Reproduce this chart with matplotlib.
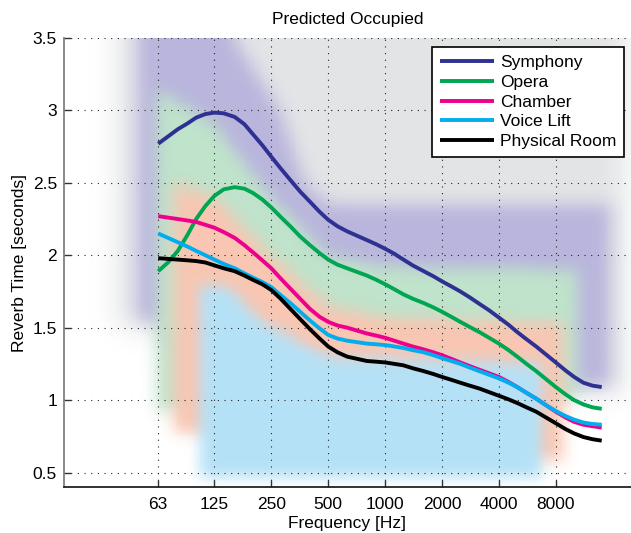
import numpy as np
import matplotlib
matplotlib.use("Agg")
import matplotlib.pyplot as plt

plt.rcParams['font.family'] = ['Liberation Sans', 'DejaVu Sans']

# 1/6-octave frequencies of the predicted curves
freqs = [63, 71, 80, 90, 100, 112, 125, 140, 160, 180,
         200, 224, 250, 280, 315, 355, 400, 450, 500, 560,
         630, 710, 800, 900, 1000, 1120, 1250, 1400, 1600, 1800,
         2000, 2240, 2500, 2800, 3150, 3550, 4000, 4500, 5000, 5600,
         6300, 7100, 8000, 9000, 10000, 11200, 12500, 14000]

symphony = [2.77, 2.82, 2.87, 2.91, 2.95, 2.975, 2.985, 2.98, 2.955, 2.905,
            2.835, 2.76, 2.68, 2.60, 2.52, 2.44, 2.37, 2.30, 2.245, 2.20,
            2.165, 2.135, 2.105, 2.075, 2.045, 2.01, 1.97, 1.93, 1.89, 1.855,
            1.82, 1.785, 1.75, 1.71, 1.665, 1.62, 1.57, 1.52, 1.47, 1.42,
            1.37, 1.315, 1.26, 1.205, 1.16, 1.12, 1.10, 1.09]
opera = [1.89, 1.95, 2.03, 2.14, 2.25, 2.34, 2.41, 2.455, 2.47, 2.46,
         2.43, 2.385, 2.33, 2.265, 2.20, 2.13, 2.07, 2.015, 1.97, 1.935,
         1.91, 1.885, 1.86, 1.83, 1.80, 1.765, 1.73, 1.70, 1.67, 1.64,
         1.61, 1.575, 1.54, 1.505, 1.47, 1.43, 1.39, 1.345, 1.30, 1.25,
         1.20, 1.145, 1.09, 1.04, 1.00, 0.97, 0.95, 0.94]
chamber = [2.27, 2.26, 2.25, 2.24, 2.23, 2.21, 2.19, 2.16, 2.12, 2.07,
           2.02, 1.965, 1.91, 1.84, 1.77, 1.70, 1.63, 1.575, 1.54, 1.515,
           1.50, 1.48, 1.46, 1.445, 1.43, 1.41, 1.39, 1.37, 1.35, 1.33,
           1.31, 1.285, 1.26, 1.235, 1.21, 1.185, 1.16, 1.125, 1.09, 1.05,
           1.01, 0.965, 0.92, 0.88, 0.85, 0.83, 0.82, 0.81]
voice_lift = [2.15, 2.12, 2.09, 2.06, 2.03, 2.00, 1.97, 1.94, 1.91, 1.875,
              1.845, 1.815, 1.78, 1.725, 1.67, 1.61, 1.55, 1.495, 1.45, 1.425,
              1.41, 1.40, 1.39, 1.385, 1.38, 1.37, 1.36, 1.345, 1.33, 1.31,
              1.29, 1.27, 1.25, 1.225, 1.20, 1.175, 1.15, 1.12, 1.09, 1.05,
              1.01, 0.965, 0.925, 0.89, 0.865, 0.845, 0.835, 0.83]
physical = [1.98, 1.975, 1.97, 1.965, 1.96, 1.95, 1.93, 1.91, 1.89, 1.86,
            1.83, 1.80, 1.76, 1.70, 1.63, 1.56, 1.49, 1.425, 1.37, 1.33,
            1.30, 1.285, 1.27, 1.265, 1.26, 1.25, 1.24, 1.22, 1.20, 1.18,
            1.16, 1.14, 1.12, 1.10, 1.08, 1.055, 1.03, 1.005, 0.98, 0.95,
            0.92, 0.88, 0.84, 0.80, 0.77, 0.745, 0.73, 0.72]

series_names = ['Symphony', 'Opera', 'Chamber', 'Voice Lift', 'Physical Room']
series_colors = ['#2e3192', '#00a651', '#ec008c', '#00aeef', '#000000']

xticks = [63, 125, 250, 500, 1000, 2000, 4000, 8000]
yticks = [0.5, 1, 1.5, 2, 2.5, 3, 3.5]

# target ranges drawn as blurred shaded areas: frequency span, top edge, bottom edge
gray_span = [38, 18500]
gray_top_f, gray_top_t = [20, 20000], [3.8, 3.8]
gray_bot_f, gray_bot_t = [38, 63, 100, 18500], [1.5, 1.5, 1.05, 1.05]

sym_span = [49, 15700]
sym_top_f, sym_top_t = [49, 120, 278, 377, 510, 15700], [3.8, 3.75, 3.0, 2.5, 2.35, 2.35]
sym_bot_f, sym_bot_t = [49, 63, 100, 15700], [1.55, 1.55, 1.1, 1.1]

opera_span = [62, 10600]
opera_top_f, opera_top_t = [62, 125, 250, 500, 1000, 10600], [3.15, 2.9, 2.4, 2.0, 1.92, 1.9]
opera_bot_f, opera_bot_t = [62, 10600], [0.92, 1.02]

chamber_span = [76, 8700]
chamber_top_f, chamber_top_t = [76, 125, 250, 500, 1000, 8700], [2.5, 2.4, 2.0, 1.65, 1.57, 1.53]
chamber_bot_f, chamber_bot_t = [76, 8700], [0.78, 0.58]

voice_span = [105, 6700]
voice_top_f, voice_top_t = [105, 150, 220, 500, 6700], [1.8, 1.78, 1.55, 1.3, 1.25]
voice_bot_f, voice_bot_t = [105, 6700], [0.47, 0.47]

XMIN, XMAX, YMIN, YMAX = 20, 20000, 0.4, 3.5
NX, NY = 300, 240


def blur(a, s):
    r = int(3 * s) + 1
    k = np.exp(-0.5 * (np.arange(-r, r + 1) / s) ** 2)
    k /= k.sum()
    a = np.pad(a, r, mode='edge')
    a = np.apply_along_axis(lambda v: np.convolve(v, k, mode='same'), 0, a)
    a = np.apply_along_axis(lambda v: np.convolve(v, k, mode='same'), 1, a)
    return a[r:-r, r:-r]


f_edges = np.logspace(np.log10(XMIN), np.log10(XMAX), NX + 1)
t_edges = np.linspace(YMIN, YMAX, NY + 1)
fc = np.sqrt(f_edges[:-1] * f_edges[1:])
tc = 0.5 * (t_edges[:-1] + t_edges[1:])
F, T = np.meshgrid(fc, tc)


def band_alpha(span, top_f, top_t, bot_f, bot_t, sigma):
    lf = np.log10(F)
    top = np.interp(lf, np.log10(top_f), top_t)
    bot = np.interp(lf, np.log10(bot_f), bot_t)
    m = (F >= span[0]) & (F <= span[1]) & (T >= bot) & (T <= top)
    return np.clip(blur(m.astype(float), sigma), 0, 1)


bands = [
    ((gray_span, gray_top_f, gray_top_t, gray_bot_f, gray_bot_t), '#e2e4e6', 7.0),
    ((sym_span, sym_top_f, sym_top_t, sym_bot_f, sym_bot_t), '#b9b5dc', 4.5),
    ((opera_span, opera_top_f, opera_top_t, opera_bot_f, opera_bot_t), '#bfe3cb', 4.0),
    ((chamber_span, chamber_top_f, chamber_top_t, chamber_bot_f, chamber_bot_t), '#f8c6b2', 4.0),
    ((voice_span, voice_top_f, voice_top_t, voice_bot_f, voice_bot_t), '#b5e1f6', 3.5),
]

img = np.ones((NY, NX, 3))
for args, col, sig in bands:
    a = band_alpha(*args, sig)[..., None]
    img = img * (1 - a) + np.array(matplotlib.colors.to_rgb(col)) * a

fig = plt.figure(figsize=(6.31, 5.33), dpi=100)
ax = fig.add_axes([64 / 631, 1 - 487 / 533, 567 / 631, (487 - 38) / 533])
ax.set_xscale('log')
ax.pcolormesh(f_edges, t_edges, img, shading='flat', zorder=0, rasterized=True)

for ys, name, col in zip([symphony, opera, chamber, voice_lift, physical], series_names, series_colors):
    ax.plot(freqs, ys, color=col, lw=2.8, label=name, solid_capstyle='butt',
            solid_joinstyle='round', zorder=3)

ax.set_xlim(XMIN, XMAX)
ax.set_ylim(YMIN, YMAX)
ax.set_xticks(xticks)
ax.set_xticklabels([str(v) for v in xticks])
ax.xaxis.set_minor_locator(matplotlib.ticker.NullLocator())
ax.set_yticks(yticks)
ax.set_yticklabels(['0.5', '1', '1.5', '2', '2.5', '3', '3.5'])
ax.tick_params(direction='in', length=5, width=1, labelsize=12.5, color='#333333')
ax.tick_params(axis='x', pad=7)
ax.tick_params(axis='y', pad=5)
ax.set_axisbelow('line')
ax.grid(True, color='#222222', linestyle=(0, (1, 5)), lw=0.8)

ax.spines['top'].set_visible(False)
ax.spines['right'].set_visible(False)
ax.spines['left'].set_color('#808080')
ax.spines['left'].set_linewidth(1.3)
ax.spines['bottom'].set_color('#222222')
ax.spines['bottom'].set_linewidth(1.3)

ax.set_title('Predicted Occupied', fontsize=12.5, pad=10)
ax.set_xlabel('Frequency [Hz]', fontsize=12.5, labelpad=3)
ax.set_ylabel('Reverb Time [seconds]', fontsize=12.5, labelpad=4)

leg = ax.legend(loc='upper right', bbox_to_anchor=(0.988, 0.98), borderaxespad=0,
                fontsize=12.5, fancybox=False, framealpha=1, edgecolor='black',
                handlelength=3.1, handletextpad=0.35, labelspacing=0.27, borderpad=0.45)
leg.get_frame().set_linewidth(1.2)
leg.set_zorder(5)

fig.savefig('out.png', dpi=100)
